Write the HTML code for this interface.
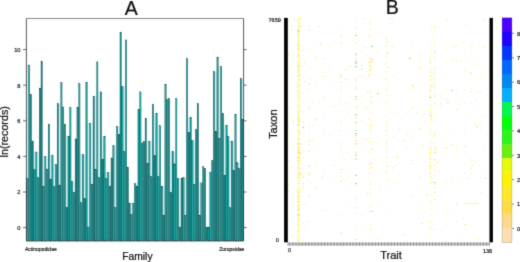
<!DOCTYPE html>
<html><head><meta charset="utf-8"><title>Figure</title>
<style>html,body{margin:0;padding:0;background:#fff}svg{display:block}text{font-family:"Liberation Sans",sans-serif;fill:#111}.b{stroke:#111;stroke-width:0.22}</style></head><body>
<svg width="520" height="262" viewBox="0 0 520 262">
<defs><filter id="soft" x="0" y="0" width="100%" height="100%" filterUnits="userSpaceOnUse" color-interpolation-filters="sRGB"><feConvolveMatrix order="3" kernelMatrix="0.0169 0.0962 0.0169 0.0962 0.5476 0.0962 0.0169 0.0962 0.0169" edgeMode="duplicate" preserveAlpha="false"/></filter></defs>
<g filter="url(#soft)">
<rect width="520" height="262" fill="#fff"/>
<g fill="#d8f6f6"><rect x="26.10" y="64.8" width="2.40" height="113.4"/><rect x="33.28" y="151.8" width="2.40" height="17.6"/><rect x="36.87" y="151.8" width="2.40" height="25.8"/><rect x="42.26" y="156.2" width="2.40" height="29.7"/><rect x="45.85" y="156.2" width="2.40" height="12.6"/><rect x="49.44" y="154.9" width="2.40" height="24.0"/><rect x="53.03" y="164.4" width="2.40" height="22.2"/><rect x="58.41" y="103.6" width="2.40" height="81.3"/><rect x="65.59" y="135.9" width="2.40" height="71.4"/><rect x="72.77" y="181.4" width="2.40" height="10.8"/><rect x="79.95" y="154.3" width="2.40" height="48.3"/><rect x="83.54" y="154.3" width="2.40" height="44.3"/><rect x="87.13" y="123.0" width="2.40" height="103.9"/><rect x="90.72" y="123.0" width="2.40" height="61.0"/><rect x="94.31" y="96.1" width="2.40" height="73.3"/><rect x="97.90" y="91.7" width="2.40" height="85.9"/><rect x="101.49" y="136.5" width="2.40" height="22.6"/><rect x="105.08" y="172.2" width="2.40" height="6.0"/><rect x="108.67" y="172.2" width="2.40" height="13.7"/><rect x="114.06" y="145.3" width="2.40" height="62.1"/><rect x="117.65" y="126.1" width="2.40" height="7.9"/><rect x="123.03" y="86.2" width="2.40" height="64.9"/><rect x="130.21" y="202.9" width="2.40" height="11.4"/><rect x="135.60" y="183.4" width="2.40" height="2.5"/><rect x="140.98" y="141.6" width="2.40" height="1.2"/><rect x="146.37" y="140.9" width="2.40" height="22.2"/><rect x="149.96" y="140.9" width="2.40" height="35.4"/><rect x="153.55" y="113.1" width="2.40" height="42.5"/><rect x="157.14" y="125.6" width="2.40" height="50.7"/><rect x="162.52" y="185.9" width="2.40" height="29.1"/><rect x="166.11" y="98.3" width="2.40" height="1.3"/><rect x="169.70" y="151.5" width="2.40" height="40.7"/><rect x="173.29" y="151.5" width="2.40" height="12.2"/><rect x="178.68" y="178.2" width="2.40" height="48.7"/><rect x="184.06" y="177.2" width="2.40" height="37.8"/><rect x="187.65" y="117.2" width="2.40" height="14.9"/><rect x="193.04" y="140.3" width="2.40" height="43.9"/><rect x="198.42" y="182.7" width="2.40" height="32.3"/><rect x="214.58" y="71.5" width="2.40" height="59.7"/><rect x="218.17" y="66.5" width="2.40" height="71.5"/><rect x="223.55" y="125.3" width="2.40" height="49.8"/><rect x="228.94" y="140.8" width="2.40" height="66.8"/><rect x="232.53" y="140.8" width="2.40" height="29.7"/><rect x="237.91" y="162.6" width="2.40" height="5.8"/><rect x="241.50" y="78.6" width="2.40" height="40.4"/></g>
<path d="M28.20 178.4V241.0M29.99 94.4V241.0M31.79 141.1V241.0M33.58 169.6V241.0M35.38 169.6V241.0M37.17 177.8V241.0M38.97 177.8V241.0M40.76 88.1V241.0M42.56 186.1V241.0M44.35 186.1V241.0M46.15 169.0V241.0M47.94 169.0V241.0M49.74 179.1V241.0M51.53 179.1V241.0M53.33 186.8V241.0M55.12 186.8V241.0M56.92 164.6V241.0M58.71 185.1V241.0M60.51 185.1V241.0M62.30 107.0V241.0M64.10 124.1V241.0M65.89 207.5V241.0M67.69 207.5V241.0M69.48 136.1V241.0M71.28 181.6V241.0M73.07 192.4V241.0M74.87 192.4V241.0M76.66 138.9V241.0M78.46 107.4V241.0M80.25 202.8V241.0M82.05 202.8V241.0M83.84 198.8V241.0M85.64 198.8V241.0M87.43 227.1V241.0M89.23 227.1V241.0M91.02 184.2V241.0M92.82 184.2V241.0M94.61 169.6V241.0M96.41 169.6V241.0M98.20 177.8V241.0M100.00 177.8V241.0M101.79 159.3V241.0M103.59 159.3V241.0M105.38 178.4V241.0M107.18 178.4V241.0M108.97 186.1V241.0M110.77 186.1V241.0M112.56 158.0V241.0M114.36 207.6V241.0M116.15 207.6V241.0M117.95 134.2V241.0M119.74 134.2V241.0M121.54 86.4V241.0M123.33 151.3V241.0M125.13 151.3V241.0M126.92 167.1V241.0M128.72 203.1V241.0M130.51 214.5V241.0M132.31 214.5V241.0M134.10 203.1V241.0M135.90 186.1V241.0M137.69 186.1V241.0M139.49 109.5V241.0M141.28 143.0V241.0M143.08 143.0V241.0M144.87 141.8V241.0M146.67 163.3V241.0M148.46 163.3V241.0M150.26 176.5V241.0M152.05 176.5V241.0M153.85 155.8V241.0M155.64 155.8V241.0M157.44 176.5V241.0M159.23 176.5V241.0M161.03 186.1V241.0M162.82 215.2V241.0M164.62 215.2V241.0M166.41 99.8V241.0M168.21 99.8V241.0M170.00 192.4V241.0M171.80 192.4V241.0M173.59 163.9V241.0M175.39 163.9V241.0M177.18 178.4V241.0M178.98 227.1V241.0M180.77 227.1V241.0M182.57 178.2V241.0M184.36 215.2V241.0M186.16 215.2V241.0M187.95 132.3V241.0M189.75 132.3V241.0M191.54 140.5V241.0M193.34 184.4V241.0M195.13 184.4V241.0M196.93 129.5V241.0M198.72 215.2V241.0M200.52 215.2V241.0M202.31 182.9V241.0M204.11 168.4V241.0M205.90 227.1V241.0M207.70 227.1V241.0M209.49 227.1V241.0M211.29 172.1V241.0M213.08 160.8V241.0M214.88 131.4V241.0M216.67 131.4V241.0M218.47 138.2V241.0M220.26 138.2V241.0M222.06 113.5V241.0M223.85 175.3V241.0M225.65 175.3V241.0M227.44 136.3V241.0M229.24 207.8V241.0M231.03 207.8V241.0M232.83 170.7V241.0M234.62 170.7V241.0M236.42 162.8V241.0M238.21 168.6V241.0M240.01 168.6V241.0M241.80 119.2V241.0" stroke="#0a5a5c" stroke-width="0.6" fill="none"/>
<g stroke="#063a3c" stroke-width="0.34"><rect x="26.64" y="178.4" width="1.315" height="62.6" fill="#21b8b2"/><rect x="28.44" y="65.0" width="1.315" height="176.0" fill="#1db2ae"/><rect x="30.23" y="94.4" width="1.315" height="146.6" fill="#0e9898"/><rect x="32.03" y="141.1" width="1.315" height="99.9" fill="#098f91"/><rect x="33.82" y="169.6" width="1.315" height="71.4" fill="#16a5a3"/><rect x="35.62" y="152.0" width="1.315" height="89.0" fill="#22b9b4"/><rect x="37.41" y="177.8" width="1.315" height="63.2" fill="#1bafab"/><rect x="39.21" y="88.1" width="1.315" height="152.9" fill="#0c9595"/><rect x="41.00" y="61.2" width="1.315" height="179.8" fill="#0a9192"/><rect x="42.80" y="186.1" width="1.315" height="54.9" fill="#18a9a6"/><rect x="44.59" y="156.4" width="1.315" height="84.6" fill="#22bab4"/><rect x="46.39" y="169.0" width="1.315" height="72.0" fill="#19aba8"/><rect x="48.18" y="124.1" width="1.315" height="116.9" fill="#0a9293"/><rect x="49.98" y="179.1" width="1.315" height="61.9" fill="#0b9394"/><rect x="51.77" y="155.1" width="1.315" height="85.9" fill="#1aada9"/><rect x="53.57" y="186.8" width="1.315" height="54.2" fill="#22bab4"/><rect x="55.36" y="164.6" width="1.315" height="76.4" fill="#17a7a5"/><rect x="57.16" y="103.8" width="1.315" height="137.2" fill="#099092"/><rect x="58.95" y="185.1" width="1.315" height="55.9" fill="#0d9696"/><rect x="60.75" y="82.6" width="1.315" height="158.4" fill="#1cb0ac"/><rect x="62.54" y="107.0" width="1.315" height="134.0" fill="#21b9b3"/><rect x="64.34" y="124.1" width="1.315" height="116.9" fill="#15a3a1"/><rect x="66.13" y="207.5" width="1.315" height="33.5" fill="#088f91"/><rect x="67.93" y="136.1" width="1.315" height="104.9" fill="#0f9999"/><rect x="69.72" y="107.4" width="1.315" height="133.6" fill="#1eb3af"/><rect x="71.52" y="181.6" width="1.315" height="59.4" fill="#20b7b2"/><rect x="73.31" y="192.4" width="1.315" height="48.6" fill="#129f9e"/><rect x="75.11" y="138.9" width="1.315" height="102.1" fill="#088e90"/><rect x="76.90" y="107.4" width="1.315" height="133.6" fill="#119d9c"/><rect x="78.70" y="83.2" width="1.315" height="157.8" fill="#20b6b1"/><rect x="80.49" y="202.8" width="1.315" height="38.2" fill="#1fb5b0"/><rect x="82.29" y="154.5" width="1.315" height="86.5" fill="#109b9b"/><rect x="84.08" y="198.8" width="1.315" height="42.2" fill="#088e90"/><rect x="85.88" y="82.6" width="1.315" height="158.4" fill="#13a19f"/><rect x="87.67" y="227.1" width="1.315" height="13.9" fill="#21b8b2"/><rect x="89.47" y="123.2" width="1.315" height="117.8" fill="#1db2ae"/><rect x="91.26" y="184.2" width="1.315" height="56.8" fill="#0e9898"/><rect x="93.06" y="96.3" width="1.315" height="144.7" fill="#098f91"/><rect x="94.85" y="169.6" width="1.315" height="71.4" fill="#15a5a3"/><rect x="96.65" y="61.9" width="1.315" height="179.1" fill="#22b9b3"/><rect x="98.44" y="177.8" width="1.315" height="63.2" fill="#1bafab"/><rect x="100.24" y="91.9" width="1.315" height="149.1" fill="#0c9595"/><rect x="102.03" y="159.3" width="1.315" height="81.7" fill="#0a9192"/><rect x="103.83" y="136.7" width="1.315" height="104.3" fill="#18a9a6"/><rect x="105.62" y="178.4" width="1.315" height="62.6" fill="#22bab4"/><rect x="107.42" y="172.4" width="1.315" height="68.6" fill="#19aba8"/><rect x="109.21" y="186.1" width="1.315" height="54.9" fill="#0a9293"/><rect x="111.01" y="158.0" width="1.315" height="83.0" fill="#0b9394"/><rect x="112.80" y="145.5" width="1.315" height="95.5" fill="#1aada9"/><rect x="114.60" y="207.6" width="1.315" height="33.4" fill="#22bab4"/><rect x="116.39" y="126.3" width="1.315" height="114.7" fill="#17a7a5"/><rect x="118.19" y="134.2" width="1.315" height="106.8" fill="#099092"/><rect x="119.98" y="32.3" width="1.315" height="208.7" fill="#0d9696"/><rect x="121.78" y="86.4" width="1.315" height="154.6" fill="#1cb0ac"/><rect x="123.57" y="151.3" width="1.315" height="89.7" fill="#21b9b3"/><rect x="125.37" y="39.9" width="1.315" height="201.1" fill="#15a3a1"/><rect x="127.16" y="167.1" width="1.315" height="73.9" fill="#088f91"/><rect x="128.96" y="203.1" width="1.315" height="37.9" fill="#0f9999"/><rect x="130.75" y="214.5" width="1.315" height="26.5" fill="#1eb3af"/><rect x="132.55" y="203.1" width="1.315" height="37.9" fill="#20b7b2"/><rect x="134.34" y="183.6" width="1.315" height="57.4" fill="#129f9e"/><rect x="136.14" y="186.1" width="1.315" height="54.9" fill="#088e90"/><rect x="137.93" y="109.5" width="1.315" height="131.5" fill="#119d9c"/><rect x="139.73" y="91.9" width="1.315" height="149.1" fill="#20b6b1"/><rect x="141.52" y="143.0" width="1.315" height="98.0" fill="#1fb5b0"/><rect x="143.32" y="141.8" width="1.315" height="99.2" fill="#109b9b"/><rect x="145.11" y="118.3" width="1.315" height="122.7" fill="#088e90"/><rect x="146.91" y="163.3" width="1.315" height="77.7" fill="#13a19f"/><rect x="148.70" y="141.1" width="1.315" height="99.9" fill="#21b8b2"/><rect x="150.50" y="176.5" width="1.315" height="64.5" fill="#1db2ae"/><rect x="152.29" y="104.5" width="1.315" height="136.5" fill="#0e9898"/><rect x="154.09" y="155.8" width="1.315" height="85.2" fill="#098f91"/><rect x="155.88" y="113.3" width="1.315" height="127.7" fill="#15a5a3"/><rect x="157.68" y="176.5" width="1.315" height="64.5" fill="#22b9b3"/><rect x="159.47" y="125.8" width="1.315" height="115.2" fill="#1cafab"/><rect x="161.27" y="186.1" width="1.315" height="54.9" fill="#0c9595"/><rect x="163.06" y="215.2" width="1.315" height="25.8" fill="#0a9192"/><rect x="164.86" y="84.2" width="1.315" height="156.8" fill="#18a9a6"/><rect x="166.65" y="99.8" width="1.315" height="141.2" fill="#22bab4"/><rect x="168.45" y="98.5" width="1.315" height="142.5" fill="#19aba8"/><rect x="170.24" y="192.4" width="1.315" height="48.6" fill="#0a9293"/><rect x="172.04" y="151.7" width="1.315" height="89.3" fill="#0b9394"/><rect x="173.83" y="163.9" width="1.315" height="77.1" fill="#1aada9"/><rect x="175.63" y="98.5" width="1.315" height="142.5" fill="#22bab4"/><rect x="177.42" y="178.4" width="1.315" height="62.6" fill="#17a7a5"/><rect x="179.22" y="227.1" width="1.315" height="13.9" fill="#099092"/><rect x="181.01" y="178.2" width="1.315" height="62.8" fill="#0d9696"/><rect x="182.81" y="177.4" width="1.315" height="63.6" fill="#1cb0ac"/><rect x="184.60" y="215.2" width="1.315" height="25.8" fill="#21b9b3"/><rect x="186.40" y="58.7" width="1.315" height="182.3" fill="#15a3a2"/><rect x="188.19" y="132.3" width="1.315" height="108.7" fill="#088f91"/><rect x="189.99" y="117.4" width="1.315" height="123.6" fill="#0e9999"/><rect x="191.78" y="140.5" width="1.315" height="100.5" fill="#1eb3ae"/><rect x="193.58" y="184.4" width="1.315" height="56.6" fill="#20b7b2"/><rect x="195.37" y="129.5" width="1.315" height="111.5" fill="#129f9e"/><rect x="197.17" y="103.8" width="1.315" height="137.2" fill="#088e90"/><rect x="198.96" y="215.2" width="1.315" height="25.8" fill="#119d9c"/><rect x="200.76" y="182.9" width="1.315" height="58.1" fill="#20b6b1"/><rect x="202.55" y="166.8" width="1.315" height="74.2" fill="#1fb5b0"/><rect x="204.35" y="168.4" width="1.315" height="72.6" fill="#109c9b"/><rect x="206.14" y="227.1" width="1.315" height="13.9" fill="#088e90"/><rect x="207.94" y="227.1" width="1.315" height="13.9" fill="#13a09f"/><rect x="209.73" y="172.1" width="1.315" height="68.9" fill="#21b8b2"/><rect x="211.53" y="160.8" width="1.315" height="80.2" fill="#1eb2ae"/><rect x="213.32" y="71.7" width="1.315" height="169.3" fill="#0e9898"/><rect x="215.12" y="131.4" width="1.315" height="109.6" fill="#098f91"/><rect x="216.91" y="57.1" width="1.315" height="183.9" fill="#15a5a2"/><rect x="218.71" y="138.2" width="1.315" height="102.8" fill="#22b9b3"/><rect x="220.50" y="66.7" width="1.315" height="174.3" fill="#1cafab"/><rect x="222.30" y="113.5" width="1.315" height="127.5" fill="#0c9596"/><rect x="224.09" y="175.3" width="1.315" height="65.7" fill="#099192"/><rect x="225.89" y="125.5" width="1.315" height="115.5" fill="#18a9a6"/><rect x="227.68" y="136.3" width="1.315" height="104.7" fill="#22bab4"/><rect x="229.48" y="207.8" width="1.315" height="33.2" fill="#19aca8"/><rect x="231.27" y="141.0" width="1.315" height="100.0" fill="#0a9293"/><rect x="233.07" y="170.7" width="1.315" height="70.3" fill="#0b9394"/><rect x="234.86" y="114.2" width="1.315" height="126.8" fill="#1aaca9"/><rect x="236.66" y="162.8" width="1.315" height="78.2" fill="#22bab4"/><rect x="238.45" y="168.6" width="1.315" height="72.4" fill="#17a8a5"/><rect x="240.25" y="78.8" width="1.315" height="162.2" fill="#099092"/><rect x="242.04" y="119.2" width="1.315" height="121.8" fill="#0c9696"/></g>
<path d="M26.4 241.0V18.5M243.6 18.5V241.0" fill="none" stroke="#2c2c2c" stroke-width="0.8"/>
<path d="M26.4 18.5H243.6M26.4 241.0H243.6" fill="none" stroke="#4a4a4a" stroke-width="0.65"/>
<path d="M23.1 227.6H26.4M243.6 227.6h3M23.1 192.0H26.4M243.6 192.0h3M23.1 156.4H26.4M243.6 156.4h3M23.1 120.8H26.4M243.6 120.8h3M23.1 85.2H26.4M243.6 85.2h3M23.1 49.6H26.4M243.6 49.6h3" stroke="#2c2c2c" stroke-width="0.7" fill="none"/>
<text x="20.4" y="229.9" font-size="5.6" stroke="#111" stroke-width="0.18" text-anchor="end">0</text>
<text x="20.4" y="194.3" font-size="5.6" stroke="#111" stroke-width="0.18" text-anchor="end">2</text>
<text x="20.4" y="158.7" font-size="5.6" stroke="#111" stroke-width="0.18" text-anchor="end">4</text>
<text x="20.4" y="123.1" font-size="5.6" stroke="#111" stroke-width="0.18" text-anchor="end">6</text>
<text x="20.4" y="87.5" font-size="5.6" stroke="#111" stroke-width="0.18" text-anchor="end">8</text>
<text x="20.4" y="51.9" font-size="5.6" stroke="#111" stroke-width="0.18" text-anchor="end">10</text>
<text x="131.2" y="14.6" font-size="19.5" text-anchor="middle" class="b">A</text>
<text x="137.4" y="259.5" font-size="10.3" text-anchor="middle" class="b">Family</text>
<text transform="translate(8.1,131.8) rotate(-90)" font-size="10.75" text-anchor="middle" class="b">ln(records)</text>
<text x="25" y="250.6" font-size="5.0" stroke="#111" stroke-width="0.16">Actinopodidae</text>
<text x="244.4" y="250.6" font-size="5.05" stroke="#111" stroke-width="0.16" text-anchor="end">Zoropsidae</text>
<rect x="297.2" y="18.4" width="2.5" height="223.4" fill="#FFF9A8" fill-opacity="0.5"/>
<path d="M297.2 18.5h2.5M297.2 25.5h2.5M297.2 32.5h2.5M297.2 37.5h2.5M297.2 69.5h2.5M297.2 80.5h2.5M297.2 90.5h2.5M297.2 93.5h2.5M297.2 106.5h2.5M297.2 113.5h2.5M297.2 139.5h2.5M297.2 154.5h2.5M297.2 167.5h2.5M297.2 194.5h2.5M297.2 220.5h2.5M297.2 226.5h2.5" stroke="#FFF58A" stroke-opacity="0.7" stroke-width="1" fill="none"/>
<path d="M297.2 20.5h2.5M297.2 22.5h2.5M297.2 27.5h2.5M297.2 54.5h2.5M297.2 62.5h2.5M297.2 86.5h2.5M297.2 96.5h2.5M297.2 99.5h2.5M297.2 112.5h2.5M297.2 132.5h2.5M297.2 145.5h2.5M297.2 166.5h2.5M297.2 178.5h2.5M297.2 189.5h2.5M297.2 198.5h2.5M297.2 222.5h2.5" stroke="#FFF58A" stroke-opacity="0.5" stroke-width="1" fill="none"/>
<path d="M297.2 30.5h2.5M297.2 152.5h2.5M297.2 201.5h2.5M297.2 214.5h2.5" stroke="#FFD27A" stroke-opacity="0.9" stroke-width="1" fill="none"/>
<path d="M297.2 31.5h2.5" stroke="#FFD27A" stroke-opacity="1.0" stroke-width="1" fill="none"/>
<path d="M297.2 33.5h2.5M297.2 163.5h2.5M297.2 196.5h2.5M297.2 210.5h2.5" stroke="#FFEA50" stroke-opacity="0.6" stroke-width="1" fill="none"/>
<path d="M297.2 35.5h2.5M297.2 42.5h2.5M297.2 55.5h2.5M297.2 61.5h2.5M297.2 104.5h2.5M297.2 107.5h2.5M297.2 111.5h2.5M297.2 118.5h2.5M297.2 125.5h2.5M297.2 144.5h2.5M297.2 161.5h2.5M297.2 175.5h2.5M297.2 207.5h2.5" stroke="#FFF58A" stroke-opacity="0.9" stroke-width="1" fill="none"/>
<path d="M297.2 38.5h2.5M297.2 43.5h2.5M297.2 47.5h2.5M297.2 50.5h2.5M297.2 58.5h2.5M297.2 71.5h2.5M297.2 87.5h2.5M297.2 92.5h2.5M297.2 153.5h2.5M297.2 168.5h2.5M297.2 172.5h2.5M297.2 208.5h2.5M297.2 212.5h2.5M297.2 216.5h2.5M297.2 218.5h2.5M297.2 237.5h2.5" stroke="#FFF58A" stroke-opacity="0.4" stroke-width="1" fill="none"/>
<path d="M297.2 40.5h2.5M297.2 56.5h2.5M297.2 72.5h2.5M297.2 151.5h2.5M297.2 158.5h2.5M297.2 183.5h2.5M297.2 231.5h2.5" stroke="#FFEA50" stroke-opacity="0.5" stroke-width="1" fill="none"/>
<path d="M297.2 44.5h2.5M297.2 53.5h2.5M297.2 63.5h2.5M297.2 66.5h2.5M297.2 84.5h2.5M297.2 97.5h2.5M297.2 123.5h2.5M297.2 169.5h2.5M297.2 199.5h2.5M297.2 206.5h2.5M297.2 219.5h2.5M297.2 224.5h2.5M297.2 225.5h2.5M297.2 238.5h2.5" stroke="#FFF58A" stroke-opacity="0.6" stroke-width="1" fill="none"/>
<path d="M297.2 45.5h2.5M297.2 65.5h2.5M297.2 143.5h2.5M297.2 173.5h2.5M297.2 215.5h2.5" stroke="#FFEA50" stroke-opacity="0.9" stroke-width="1" fill="none"/>
<path d="M297.2 48.5h2.5M297.2 67.5h2.5M297.2 85.5h2.5M297.2 156.5h2.5M297.2 195.5h2.5" stroke="#FFF58A" stroke-opacity="1.0" stroke-width="1" fill="none"/>
<path d="M297.2 49.5h2.5M297.2 177.5h2.5M297.2 209.5h2.5" stroke="#FFEA50" stroke-opacity="0.8" stroke-width="1" fill="none"/>
<path d="M297.2 70.5h2.5M297.2 79.5h2.5M297.2 91.5h2.5M297.2 95.5h2.5M297.2 114.5h2.5M297.2 116.5h2.5M297.2 117.5h2.5M297.2 130.5h2.5M297.2 131.5h2.5M297.2 149.5h2.5M297.2 180.5h2.5M297.2 190.5h2.5M297.2 191.5h2.5M297.2 197.5h2.5M297.2 230.5h2.5" stroke="#FFF58A" stroke-opacity="0.8" stroke-width="1" fill="none"/>
<path d="M297.2 75.5h2.5" stroke="#FFD27A" stroke-opacity="0.8" stroke-width="1" fill="none"/>
<path d="M297.2 119.5h2.5M297.2 138.5h2.5M297.2 147.5h2.5M297.2 150.5h2.5M297.2 205.5h2.5M297.2 240.5h2.5" stroke="#FFEA50" stroke-opacity="0.7" stroke-width="1" fill="none"/>
<path d="M297.2 121.5h2.5M297.2 160.5h2.5" stroke="#FFD27A" stroke-opacity="0.6" stroke-width="1" fill="none"/>
<path d="M297.2 124.5h2.5" stroke="#FFD27A" stroke-opacity="0.4" stroke-width="1" fill="none"/>
<path d="M297.2 157.5h2.5" stroke="#FFD27A" stroke-opacity="0.5" stroke-width="1" fill="none"/>
<path d="M297.2 192.5h2.5" stroke="#FFD27A" stroke-opacity="0.7" stroke-width="1" fill="none"/>
<path d="M288.0 20.5h1.46M299.7 47.5h1.46M299.7 110.5h1.46M299.7 160.5h1.46M299.7 204.5h1.46M302.6 55.5h1.46M302.6 58.5h1.46M302.6 122.5h1.46M302.6 125.5h1.46M302.6 153.5h1.46M308.4 49.5h1.46M308.4 96.5h1.46M308.4 108.5h1.46M308.4 144.5h1.46M311.4 68.5h1.46M311.4 90.5h1.46M311.4 101.5h1.46M311.4 141.5h1.46M312.8 140.5h1.46M315.7 133.5h1.46M315.7 165.5h1.46M323.0 76.5h1.46M323.0 115.5h1.46M323.0 119.5h1.46M327.4 229.5h1.46M340.5 44.5h1.46M340.5 47.5h1.46M340.5 176.5h1.46M342.0 179.5h1.46M344.9 174.5h1.46M347.8 112.5h1.46M350.8 84.5h1.46M352.2 136.5h1.46M355.1 67.5h1.46M355.1 107.5h1.46M355.1 125.5h1.46M355.1 185.5h1.46M355.1 225.5h1.46M355.1 230.5h1.46M358.1 40.5h1.46M361.0 228.5h1.46M365.3 55.5h1.46M368.3 70.5h1.46M368.3 109.5h1.46M368.3 152.5h1.46M368.3 168.5h1.46M368.3 179.5h1.46M369.7 59.5h1.46M369.7 126.5h1.46M369.7 142.5h1.46M369.7 166.5h1.46M371.2 60.5h1.46M371.2 74.5h1.46M371.2 79.5h1.46M374.1 158.5h1.46M377.0 102.5h1.46M377.0 143.5h1.46M377.0 173.5h1.46M385.8 115.5h1.46M385.8 125.5h1.46M385.8 126.5h1.46M385.8 140.5h1.46M385.8 145.5h1.46M385.8 153.5h1.46M385.8 157.5h1.46M385.8 224.5h1.46M387.2 169.5h1.46M387.2 185.5h1.46M390.2 240.5h1.46M391.6 182.5h1.46M394.5 182.5h1.46M397.5 156.5h1.46M398.9 163.5h1.46M412.1 32.5h1.46M419.3 205.5h1.46M419.3 210.5h1.46M423.7 110.5h1.46M425.2 92.5h1.46M426.6 161.5h1.46M439.8 27.5h1.46M439.8 95.5h1.46M439.8 188.5h1.46M441.2 183.5h1.46M445.6 88.5h1.46M445.6 204.5h1.46M445.6 239.5h1.46M451.5 180.5h1.46M455.8 128.5h1.46M455.8 162.5h1.46M457.3 177.5h1.46M458.8 105.5h1.46M460.2 97.5h1.46M461.7 42.5h1.46M461.7 76.5h1.46M464.6 68.5h1.46M464.6 90.5h1.46M470.4 88.5h1.46M470.4 113.5h1.46M474.8 62.5h1.46M479.2 66.5h1.46M479.2 128.5h1.46M482.1 47.5h1.46" stroke="#FFF6A0" stroke-opacity="0.8" stroke-width="1" fill="none"/>
<path d="M288.0 26.5h1.46M288.0 118.5h1.46M288.0 134.5h1.46M299.7 57.5h1.46M299.7 159.5h1.46M299.7 218.5h1.46M302.6 46.5h1.46M302.6 66.5h1.46M302.6 158.5h1.46M308.4 166.5h1.46M315.7 156.5h1.46M317.2 100.5h1.46M318.6 110.5h1.46M336.2 182.5h1.46M340.5 52.5h1.46M340.5 88.5h1.46M340.5 96.5h1.46M350.8 121.5h1.46M355.1 123.5h1.46M356.6 239.5h1.46M362.4 47.5h1.46M369.7 76.5h1.46M369.7 104.5h1.46M369.7 121.5h1.46M369.7 138.5h1.46M369.7 207.5h1.46M377.0 47.5h1.46M385.8 94.5h1.46M385.8 196.5h1.46M391.6 110.5h1.46M412.1 64.5h1.46M413.5 60.5h1.46M423.7 81.5h1.46M426.6 166.5h1.46M438.3 100.5h1.46M442.7 78.5h1.46M455.8 95.5h1.46M464.6 50.5h1.46M470.4 139.5h1.46M473.3 44.5h1.46M473.3 160.5h1.46M474.8 50.5h1.46M479.2 117.5h1.46M480.6 171.5h1.46M483.6 57.5h1.46M483.6 104.5h1.46M487.9 70.5h1.46" stroke="#FFF6A0" stroke-opacity="0.5" stroke-width="1" fill="none"/>
<path d="M288.0 37.5h1.46M288.0 147.5h1.46M288.0 185.5h1.46M290.9 64.5h1.46M299.7 63.5h1.46M299.7 157.5h1.46M299.7 177.5h1.46M302.6 93.5h1.46M311.4 147.5h1.46M315.7 58.5h1.46M315.7 150.5h1.46M323.0 132.5h1.46M328.9 82.5h1.46M340.5 78.5h1.46M340.5 120.5h1.46M340.5 156.5h1.46M344.9 191.5h1.46M349.3 70.5h1.46M349.3 206.5h1.46M350.8 118.5h1.46M355.1 127.5h1.46M355.1 190.5h1.46M361.0 50.5h1.46M361.0 144.5h1.46M368.3 101.5h1.46M368.3 118.5h1.46M368.3 125.5h1.46M368.3 138.5h1.46M369.7 24.5h1.46M369.7 62.5h1.46M369.7 65.5h1.46M371.2 101.5h1.46M371.2 141.5h1.46M371.2 168.5h1.46M371.2 202.5h1.46M378.5 206.5h1.46M387.2 173.5h1.46M388.7 23.5h1.46M412.1 84.5h1.46M419.3 60.5h1.46M423.7 99.5h1.46M445.6 209.5h1.46M445.6 212.5h1.46M455.8 59.5h1.46M455.8 234.5h1.46M470.4 44.5h1.46M470.4 52.5h1.46M474.8 110.5h1.46M479.2 96.5h1.46M479.2 126.5h1.46M479.2 165.5h1.46M479.2 173.5h1.46M480.6 75.5h1.46M483.6 149.5h1.46" stroke="#FFF6A0" stroke-opacity="0.9" stroke-width="1" fill="none"/>
<path d="M288.0 54.5h1.46M292.4 121.5h1.46M299.7 26.5h1.46M299.7 152.5h1.46M308.4 89.5h1.46M308.4 174.5h1.46M344.9 79.5h1.46M355.1 27.5h1.46M355.1 89.5h1.46M355.1 159.5h1.46M361.0 69.5h1.46M366.8 91.5h1.46M371.2 124.5h1.46M385.8 171.5h1.46M387.2 41.5h1.46M387.2 166.5h1.46M396.0 157.5h1.46M412.1 107.5h1.46M420.8 223.5h1.46M429.6 70.5h1.46M429.6 150.5h1.46M433.9 192.5h1.46M436.9 162.5h1.46M445.6 148.5h1.46M451.5 144.5h1.46M464.6 146.5h1.46M470.4 91.5h1.46" stroke="#FFE050" stroke-opacity="0.8" stroke-width="1" fill="none"/>
<path d="M288.0 69.5h1.46M288.0 175.5h1.46M288.0 179.5h1.46M290.9 113.5h1.46M290.9 170.5h1.46M292.4 25.5h1.46M295.3 29.5h1.46M299.7 23.5h1.46M299.7 84.5h1.46M299.7 97.5h1.46M299.7 98.5h1.46M299.7 162.5h1.46M299.7 175.5h1.46M299.7 188.5h1.46M299.7 202.5h1.46M299.7 228.5h1.46M302.6 76.5h1.46M302.6 172.5h1.46M308.4 69.5h1.46M308.4 127.5h1.46M314.3 120.5h1.46M315.7 117.5h1.46M315.7 164.5h1.46M321.6 20.5h1.46M321.6 72.5h1.46M321.6 76.5h1.46M328.9 74.5h1.46M328.9 126.5h1.46M331.8 95.5h1.46M340.5 104.5h1.46M340.5 165.5h1.46M344.9 152.5h1.46M344.9 180.5h1.46M347.8 176.5h1.46M349.3 110.5h1.46M350.8 157.5h1.46M353.7 185.5h1.46M355.1 59.5h1.46M355.1 70.5h1.46M355.1 141.5h1.46M355.1 234.5h1.46M356.6 62.5h1.46M361.0 84.5h1.46M361.0 103.5h1.46M363.9 100.5h1.46M365.3 59.5h1.46M365.3 71.5h1.46M368.3 34.5h1.46M368.3 111.5h1.46M368.3 129.5h1.46M369.7 68.5h1.46M369.7 125.5h1.46M369.7 128.5h1.46M369.7 150.5h1.46M369.7 224.5h1.46M371.2 73.5h1.46M371.2 102.5h1.46M371.2 119.5h1.46M371.2 135.5h1.46M377.0 166.5h1.46M377.0 211.5h1.46M384.3 64.5h1.46M385.8 79.5h1.46M385.8 152.5h1.46M387.2 99.5h1.46M391.6 19.5h1.46M391.6 95.5h1.46M406.2 141.5h1.46M412.1 76.5h1.46M412.1 113.5h1.46M412.1 134.5h1.46M413.5 52.5h1.46M419.3 47.5h1.46M420.8 81.5h1.46M420.8 117.5h1.46M423.7 130.5h1.46M442.7 115.5h1.46M444.2 90.5h1.46M444.2 147.5h1.46M445.6 46.5h1.46M445.6 48.5h1.46M445.6 133.5h1.46M450.0 133.5h1.46M451.5 45.5h1.46M451.5 182.5h1.46M455.8 152.5h1.46M455.8 216.5h1.46M464.6 129.5h1.46M470.4 163.5h1.46M470.4 173.5h1.46M470.4 240.5h1.46M471.9 160.5h1.46M473.3 122.5h1.46M474.8 90.5h1.46M476.3 238.5h1.46M479.2 214.5h1.46" stroke="#FFF6A0" stroke-opacity="0.7" stroke-width="1" fill="none"/>
<path d="M288.0 107.5h1.46M288.0 220.5h1.46M290.9 29.5h1.46M299.7 51.5h1.46M299.7 79.5h1.46M299.7 172.5h1.46M302.6 50.5h1.46M302.6 187.5h1.46M304.1 203.5h1.46M304.1 226.5h1.46M308.4 131.5h1.46M308.4 141.5h1.46M308.4 151.5h1.46M311.4 138.5h1.46M318.6 103.5h1.46M323.0 58.5h1.46M323.0 129.5h1.46M323.0 171.5h1.46M328.9 66.5h1.46M328.9 135.5h1.46M334.7 41.5h1.46M340.5 29.5h1.46M340.5 100.5h1.46M340.5 149.5h1.46M355.1 55.5h1.46M355.1 78.5h1.46M355.1 118.5h1.46M355.1 154.5h1.46M361.0 214.5h1.46M365.3 139.5h1.46M368.3 173.5h1.46M368.3 211.5h1.46M369.7 103.5h1.46M369.7 164.5h1.46M369.7 188.5h1.46M369.7 193.5h1.46M369.7 228.5h1.46M369.7 235.5h1.46M371.2 68.5h1.46M371.2 96.5h1.46M371.2 126.5h1.46M371.2 148.5h1.46M377.0 238.5h1.46M385.8 43.5h1.46M385.8 71.5h1.46M385.8 90.5h1.46M385.8 134.5h1.46M385.8 143.5h1.46M385.8 165.5h1.46M385.8 213.5h1.46M387.2 158.5h1.46M391.6 167.5h1.46M393.1 136.5h1.46M404.8 235.5h1.46M406.2 148.5h1.46M406.2 240.5h1.46M412.1 137.5h1.46M419.3 55.5h1.46M419.3 128.5h1.46M419.3 176.5h1.46M423.7 66.5h1.46M425.2 85.5h1.46M429.6 63.5h1.46M429.6 79.5h1.46M429.6 85.5h1.46M429.6 164.5h1.46M429.6 202.5h1.46M429.6 221.5h1.46M431.0 75.5h1.46M431.0 114.5h1.46M432.5 38.5h1.46M433.9 51.5h1.46M433.9 79.5h1.46M433.9 117.5h1.46M433.9 133.5h1.46M433.9 170.5h1.46M445.6 241.5h1.46M447.1 103.5h1.46M451.5 60.5h1.46M455.8 109.5h1.46M464.6 24.5h1.46M470.4 73.5h1.46M474.8 161.5h1.46M476.3 126.5h1.46M479.2 177.5h1.46M479.2 193.5h1.46M479.2 238.5h1.46M486.5 133.5h1.46M487.9 108.5h1.46" stroke="#FFE2B0" stroke-opacity="0.7" stroke-width="1" fill="none"/>
<path d="M288.0 127.5h1.46M288.0 205.5h1.46M290.9 107.5h1.46M299.7 46.5h1.46M299.7 66.5h1.46M299.7 93.5h1.46M299.7 120.5h1.46M302.6 123.5h1.46M302.6 169.5h1.46M302.6 191.5h1.46M304.1 60.5h1.46M304.1 133.5h1.46M304.1 150.5h1.46M305.5 88.5h1.46M308.4 25.5h1.46M308.4 48.5h1.46M308.4 56.5h1.46M308.4 67.5h1.46M308.4 78.5h1.46M308.4 145.5h1.46M308.4 173.5h1.46M308.4 180.5h1.46M315.7 44.5h1.46M315.7 55.5h1.46M323.0 47.5h1.46M323.0 72.5h1.46M323.0 107.5h1.46M330.3 44.5h1.46M340.5 42.5h1.46M340.5 227.5h1.46M350.8 96.5h1.46M355.1 45.5h1.46M355.1 184.5h1.46M355.1 222.5h1.46M356.6 142.5h1.46M356.6 230.5h1.46M361.0 138.5h1.46M368.3 114.5h1.46M368.3 142.5h1.46M368.3 178.5h1.46M369.7 89.5h1.46M369.7 127.5h1.46M369.7 171.5h1.46M369.7 225.5h1.46M371.2 48.5h1.46M371.2 229.5h1.46M377.0 157.5h1.46M379.9 92.5h1.46M381.4 85.5h1.46M382.9 222.5h1.46M385.8 55.5h1.46M385.8 116.5h1.46M385.8 135.5h1.46M385.8 162.5h1.46M385.8 176.5h1.46M387.2 81.5h1.46M387.2 101.5h1.46M393.1 169.5h1.46M398.9 140.5h1.46M400.4 211.5h1.46M406.2 55.5h1.46M412.1 63.5h1.46M412.1 98.5h1.46M419.3 73.5h1.46M439.8 79.5h1.46M439.8 161.5h1.46M454.4 83.5h1.46M455.8 202.5h1.46M470.4 79.5h1.46M470.4 166.5h1.46M474.8 149.5h1.46M479.2 47.5h1.46M479.2 78.5h1.46M483.6 43.5h1.46" stroke="#FFF6A0" stroke-opacity="0.6" stroke-width="1" fill="none"/>
<path d="M288.0 160.5h1.46M290.9 166.5h1.46M290.9 236.5h1.46M299.7 74.5h1.46M304.1 63.5h1.46M304.1 81.5h1.46M308.4 84.5h1.46M308.4 109.5h1.46M308.4 150.5h1.46M308.4 172.5h1.46M308.4 221.5h1.46M311.4 125.5h1.46M315.7 188.5h1.46M333.2 165.5h1.46M340.5 130.5h1.46M344.9 103.5h1.46M355.1 32.5h1.46M355.1 79.5h1.46M355.1 239.5h1.46M361.0 96.5h1.46M365.3 47.5h1.46M369.7 131.5h1.46M369.7 182.5h1.46M371.2 45.5h1.46M371.2 167.5h1.46M385.8 46.5h1.46M385.8 56.5h1.46M387.2 179.5h1.46M391.6 46.5h1.46M394.5 165.5h1.46M403.3 140.5h1.46M403.3 234.5h1.46M419.3 129.5h1.46M423.7 121.5h1.46M429.6 91.5h1.46M431.0 143.5h1.46M433.9 52.5h1.46M433.9 57.5h1.46M433.9 73.5h1.46M433.9 199.5h1.46M435.4 152.5h1.46M452.9 58.5h1.46M466.0 178.5h1.46M474.8 99.5h1.46" stroke="#FFE2B0" stroke-opacity="0.9" stroke-width="1" fill="none"/>
<path d="M288.0 191.5h1.46M302.6 176.5h1.46M318.6 26.5h1.46M333.2 106.5h1.46M340.5 82.5h1.46M343.5 159.5h1.46M355.1 53.5h1.46M355.1 98.5h1.46M355.1 115.5h1.46M355.1 152.5h1.46M365.3 108.5h1.46M369.7 92.5h1.46M369.7 163.5h1.46M412.1 85.5h1.46M412.1 86.5h1.46M429.6 115.5h1.46M429.6 209.5h1.46M435.4 148.5h1.46M464.6 70.5h1.46" stroke="#FFE050" stroke-opacity="0.7" stroke-width="1" fill="none"/>
<path d="M290.9 76.5h1.46M299.7 59.5h1.46M299.7 94.5h1.46M299.7 109.5h1.46M299.7 117.5h1.46M299.7 143.5h1.46M299.7 144.5h1.46M299.7 154.5h1.46M302.6 121.5h1.46M302.6 150.5h1.46M302.6 178.5h1.46M308.4 83.5h1.46M308.4 106.5h1.46M308.4 124.5h1.46M315.7 56.5h1.46M315.7 83.5h1.46M321.6 210.5h1.46M323.0 135.5h1.46M325.9 210.5h1.46M340.5 74.5h1.46M340.5 123.5h1.46M344.9 69.5h1.46M347.8 66.5h1.46M350.8 131.5h1.46M350.8 182.5h1.46M355.1 18.5h1.46M355.1 62.5h1.46M355.1 85.5h1.46M355.1 108.5h1.46M355.1 121.5h1.46M355.1 197.5h1.46M355.1 202.5h1.46M356.6 151.5h1.46M356.6 206.5h1.46M358.1 76.5h1.46M362.4 45.5h1.46M369.7 23.5h1.46M369.7 106.5h1.46M371.2 121.5h1.46M371.2 149.5h1.46M379.9 189.5h1.46M384.3 180.5h1.46M385.8 53.5h1.46M385.8 105.5h1.46M387.2 139.5h1.46M390.2 18.5h1.46M391.6 22.5h1.46M398.9 174.5h1.46M406.2 112.5h1.46M406.2 133.5h1.46M409.1 110.5h1.46M419.3 152.5h1.46M429.6 86.5h1.46M429.6 90.5h1.46M429.6 95.5h1.46M429.6 128.5h1.46M429.6 131.5h1.46M429.6 134.5h1.46M429.6 141.5h1.46M429.6 194.5h1.46M431.0 119.5h1.46M431.0 215.5h1.46M433.9 166.5h1.46M439.8 103.5h1.46M439.8 140.5h1.46M441.2 105.5h1.46M445.6 183.5h1.46M445.6 225.5h1.46M452.9 212.5h1.46M455.8 61.5h1.46M455.8 221.5h1.46M457.3 109.5h1.46M461.7 217.5h1.46M464.6 61.5h1.46M464.6 173.5h1.46M470.4 102.5h1.46M470.4 158.5h1.46M471.9 64.5h1.46M474.8 201.5h1.46M480.6 192.5h1.46" stroke="#FFE2B0" stroke-opacity="0.6" stroke-width="1" fill="none"/>
<path d="M295.3 87.5h1.46M299.7 76.5h1.46M299.7 133.5h1.46M299.7 148.5h1.46M299.7 168.5h1.46M299.7 180.5h1.46M301.1 143.5h1.46M302.6 111.5h1.46M302.6 185.5h1.46M302.6 223.5h1.46M309.9 183.5h1.46M311.4 79.5h1.46M315.7 60.5h1.46M321.6 63.5h1.46M323.0 96.5h1.46M340.5 43.5h1.46M340.5 77.5h1.46M340.5 90.5h1.46M340.5 143.5h1.46M340.5 172.5h1.46M346.4 69.5h1.46M350.8 66.5h1.46M355.1 80.5h1.46M355.1 87.5h1.46M355.1 137.5h1.46M355.1 199.5h1.46M355.1 207.5h1.46M355.1 213.5h1.46M356.6 159.5h1.46M361.0 75.5h1.46M361.0 120.5h1.46M362.4 18.5h1.46M368.3 36.5h1.46M369.7 28.5h1.46M369.7 58.5h1.46M369.7 64.5h1.46M369.7 97.5h1.46M369.7 161.5h1.46M369.7 173.5h1.46M369.7 184.5h1.46M369.7 196.5h1.46M369.7 206.5h1.46M371.2 61.5h1.46M371.2 62.5h1.46M371.2 112.5h1.46M371.2 129.5h1.46M371.2 163.5h1.46M377.0 52.5h1.46M377.0 137.5h1.46M385.8 78.5h1.46M385.8 121.5h1.46M385.8 123.5h1.46M385.8 131.5h1.46M385.8 142.5h1.46M385.8 148.5h1.46M387.2 95.5h1.46M391.6 75.5h1.46M410.6 45.5h1.46M412.1 163.5h1.46M416.4 112.5h1.46M419.3 68.5h1.46M423.7 114.5h1.46M429.6 26.5h1.46M429.6 89.5h1.46M429.6 112.5h1.46M429.6 113.5h1.46M429.6 116.5h1.46M429.6 147.5h1.46M429.6 158.5h1.46M431.0 76.5h1.46M431.0 116.5h1.46M433.9 34.5h1.46M433.9 67.5h1.46M433.9 69.5h1.46M433.9 96.5h1.46M433.9 187.5h1.46M433.9 229.5h1.46M438.3 171.5h1.46M439.8 107.5h1.46M454.4 46.5h1.46M455.8 89.5h1.46M455.8 146.5h1.46M455.8 150.5h1.46M460.2 61.5h1.46M464.6 103.5h1.46M464.6 134.5h1.46M470.4 72.5h1.46M471.9 165.5h1.46M474.8 66.5h1.46M474.8 124.5h1.46M476.3 127.5h1.46M479.2 41.5h1.46M479.2 124.5h1.46M485.0 115.5h1.46" stroke="#FFE2B0" stroke-opacity="0.8" stroke-width="1" fill="none"/>
<path d="M299.7 18.5h1.46M308.4 195.5h1.46M321.6 177.5h1.46M340.5 169.5h1.46M340.5 181.5h1.46M355.1 42.5h1.46M355.1 140.5h1.46M355.1 143.5h1.46M366.8 193.5h1.46M368.3 62.5h1.46M369.7 66.5h1.46M369.7 70.5h1.46M426.6 194.5h1.46M429.6 61.5h1.46M429.6 166.5h1.46M464.6 224.5h1.46M485.0 178.5h1.46" stroke="#FFE050" stroke-opacity="0.9" stroke-width="1" fill="none"/>
<path d="M299.7 132.5h1.46M299.7 198.5h1.46M302.6 174.5h1.46M311.4 236.5h1.46M331.8 183.5h1.46M340.5 111.5h1.46M340.5 146.5h1.46M340.5 233.5h1.46M347.8 153.5h1.46M355.1 34.5h1.46M355.1 48.5h1.46M355.1 153.5h1.46M361.0 68.5h1.46M368.3 76.5h1.46M368.3 119.5h1.46M369.7 21.5h1.46M369.7 53.5h1.46M369.7 61.5h1.46M369.7 90.5h1.46M369.7 209.5h1.46M371.2 158.5h1.46M384.3 79.5h1.46M385.8 62.5h1.46M385.8 89.5h1.46M385.8 182.5h1.46M387.2 53.5h1.46M387.2 86.5h1.46M391.6 112.5h1.46M397.5 112.5h1.46M406.2 134.5h1.46M423.7 169.5h1.46M429.6 67.5h1.46M429.6 189.5h1.46M431.0 105.5h1.46M433.9 41.5h1.46M433.9 103.5h1.46M433.9 130.5h1.46M445.6 180.5h1.46M455.8 45.5h1.46M470.4 47.5h1.46M470.4 161.5h1.46M487.9 69.5h1.46M487.9 95.5h1.46" stroke="#FFE2B0" stroke-opacity="0.5" stroke-width="1" fill="none"/>
<path d="M299.7 153.5h1.46M299.7 174.5h1.46M302.6 183.5h1.46M308.4 30.5h1.46M308.4 140.5h1.46M308.4 165.5h1.46M315.7 119.5h1.46M320.1 44.5h1.46M340.5 36.5h1.46M340.5 75.5h1.46M355.1 58.5h1.46M355.1 99.5h1.46M355.1 117.5h1.46M355.1 144.5h1.46M356.6 66.5h1.46M356.6 106.5h1.46M361.0 65.5h1.46M368.3 74.5h1.46M371.2 59.5h1.46M385.8 38.5h1.46M387.2 67.5h1.46M398.9 129.5h1.46M429.6 173.5h1.46M429.6 182.5h1.46M431.0 72.5h1.46M433.9 26.5h1.46M433.9 94.5h1.46M433.9 159.5h1.46M445.6 20.5h1.46M445.6 99.5h1.46M447.1 102.5h1.46M470.4 168.5h1.46M479.2 92.5h1.46M483.6 19.5h1.46M483.6 46.5h1.46" stroke="#C8F080" stroke-opacity="0.8" stroke-width="1" fill="none"/>
<path d="M302.6 127.5h1.46M355.1 96.5h1.46M371.2 46.5h1.46M371.2 211.5h1.46M377.0 93.5h1.46M409.1 58.5h1.46M429.6 97.5h1.46M433.9 182.5h1.46M451.5 90.5h1.46" stroke="#50D890" stroke-opacity="0.8" stroke-width="1" fill="none"/>
<path d="M340.5 86.5h1.46M340.5 214.5h1.46M340.5 232.5h1.46M385.8 102.5h1.46M385.8 130.5h1.46M387.2 52.5h1.46M410.6 160.5h1.46M412.1 195.5h1.46M422.3 145.5h1.46M455.8 203.5h1.46M464.6 164.5h1.46M470.4 74.5h1.46" stroke="#FFE050" stroke-opacity="0.6" stroke-width="1" fill="none"/>
<path d="M355.1 35.5h1.46M355.1 61.5h1.46M355.1 63.5h1.46M355.1 66.5h1.46M355.1 114.5h1.46" stroke="#4CD090" stroke-opacity="0.8" stroke-width="1" fill="none"/>
<path d="M355.1 54.5h1.46M355.1 158.5h1.46" stroke="#A8EE60" stroke-opacity="0.8" stroke-width="1" fill="none"/>
<path d="M355.1 122.5h1.46M355.1 130.5h1.46M355.1 135.5h1.46M355.1 155.5h1.46" stroke="#7AE070" stroke-opacity="0.8" stroke-width="1" fill="none"/>
<path d="M355.1 133.5h1.46M355.1 175.5h1.46M355.1 183.5h1.46" stroke="#40B8D0" stroke-opacity="0.8" stroke-width="1" fill="none"/>
<path d="M429.6 29.5h1.46M429.6 35.5h1.46M429.6 49.5h1.46M429.6 73.5h1.46M429.6 76.5h1.46M429.6 99.5h1.46M429.6 118.5h1.46M429.6 135.5h1.46M429.6 155.5h1.46M429.6 165.5h1.46M429.6 240.5h1.46M431.0 84.5h1.46M431.0 147.5h1.46M433.9 43.5h1.46M433.9 46.5h1.46M433.9 59.5h1.46M433.9 136.5h1.46M433.9 149.5h1.46" stroke="#FFFA80" stroke-opacity="0.6" stroke-width="1" fill="none"/>
<path d="M429.6 41.5h1.46M429.6 58.5h1.46M429.6 87.5h1.46M429.6 96.5h1.46M429.6 108.5h1.46M429.6 110.5h1.46M429.6 124.5h1.46M429.6 129.5h1.46M429.6 148.5h1.46M429.6 154.5h1.46M429.6 167.5h1.46M429.6 168.5h1.46M429.6 228.5h1.46M431.0 43.5h1.46M431.0 78.5h1.46M431.0 118.5h1.46M431.0 121.5h1.46M431.0 228.5h1.46M433.9 28.5h1.46M433.9 70.5h1.46M433.9 80.5h1.46M433.9 89.5h1.46M433.9 121.5h1.46M433.9 143.5h1.46M435.4 153.5h1.46" stroke="#FFFA80" stroke-opacity="0.8" stroke-width="1" fill="none"/>
<path d="M429.6 56.5h1.46M429.6 88.5h1.46M429.6 119.5h1.46M429.6 122.5h1.46M429.6 178.5h1.46M429.6 222.5h1.46M431.0 30.5h1.46M431.0 55.5h1.46M431.0 110.5h1.46M431.0 132.5h1.46M431.0 133.5h1.46M431.0 168.5h1.46M433.9 83.5h1.46M433.9 102.5h1.46M433.9 146.5h1.46M433.9 151.5h1.46M433.9 160.5h1.46M433.9 174.5h1.46M433.9 175.5h1.46M433.9 208.5h1.46" stroke="#FFFA80" stroke-opacity="0.7" stroke-width="1" fill="none"/>
<path d="M429.6 75.5h1.46M429.6 104.5h1.46M429.6 153.5h1.46M429.6 157.5h1.46M429.6 159.5h1.46M429.6 162.5h1.46M429.6 234.5h1.46M431.0 85.5h1.46M431.0 86.5h1.46M431.0 181.5h1.46M431.0 201.5h1.46M433.9 53.5h1.46M433.9 77.5h1.46M433.9 85.5h1.46M433.9 87.5h1.46M433.9 114.5h1.46M433.9 134.5h1.46M433.9 152.5h1.46M433.9 164.5h1.46M433.9 184.5h1.46" stroke="#FFFA80" stroke-opacity="0.9" stroke-width="1" fill="none"/>
<path d="M429.6 80.5h1.46M429.6 152.5h1.46M429.6 171.5h1.46M429.6 175.5h1.46M429.6 176.5h1.46M431.0 195.5h1.46M433.9 105.5h1.46M433.9 135.5h1.46" stroke="#FFFA80" stroke-opacity="1.0" stroke-width="1" fill="none"/>
<path d="M464.4 203.5H479" stroke="#ECF08A" stroke-width="0.7" fill="none"/>
<rect x="284.1" y="17.9" width="3.7" height="224.4" fill="#000"/>
<rect x="489.5" y="17.9" width="3.4" height="224.4" fill="#000"/>
<path d="M288.00 242.5v3.1M289.46 242.5v3.1M290.92 242.5v3.1M292.38 242.5v3.1M293.84 242.5v3.1M295.30 242.5v3.1M296.76 242.5v3.1M298.22 242.5v3.1M299.68 242.5v3.1M301.13 242.5v3.1M302.59 242.5v3.1M304.05 242.5v3.1M305.51 242.5v3.1M306.97 242.5v3.1M308.43 242.5v3.1M309.89 242.5v3.1M311.35 242.5v3.1M312.81 242.5v3.1M314.27 242.5v3.1M315.73 242.5v3.1M317.19 242.5v3.1M318.65 242.5v3.1M320.11 242.5v3.1M321.57 242.5v3.1M323.03 242.5v3.1M324.49 242.5v3.1M325.94 242.5v3.1M327.40 242.5v3.1M328.86 242.5v3.1M330.32 242.5v3.1M331.78 242.5v3.1M333.24 242.5v3.1M334.70 242.5v3.1M336.16 242.5v3.1M337.62 242.5v3.1M339.08 242.5v3.1M340.54 242.5v3.1M342.00 242.5v3.1M343.46 242.5v3.1M344.92 242.5v3.1M346.38 242.5v3.1M347.84 242.5v3.1M349.30 242.5v3.1M350.76 242.5v3.1M352.21 242.5v3.1M353.67 242.5v3.1M355.13 242.5v3.1M356.59 242.5v3.1M358.05 242.5v3.1M359.51 242.5v3.1M360.97 242.5v3.1M362.43 242.5v3.1M363.89 242.5v3.1M365.35 242.5v3.1M366.81 242.5v3.1M368.27 242.5v3.1M369.73 242.5v3.1M371.19 242.5v3.1M372.65 242.5v3.1M374.11 242.5v3.1M375.57 242.5v3.1M377.02 242.5v3.1M378.48 242.5v3.1M379.94 242.5v3.1M381.40 242.5v3.1M382.86 242.5v3.1M384.32 242.5v3.1M385.78 242.5v3.1M387.24 242.5v3.1M388.70 242.5v3.1M390.16 242.5v3.1M391.62 242.5v3.1M393.08 242.5v3.1M394.54 242.5v3.1M396.00 242.5v3.1M397.46 242.5v3.1M398.92 242.5v3.1M400.38 242.5v3.1M401.83 242.5v3.1M403.29 242.5v3.1M404.75 242.5v3.1M406.21 242.5v3.1M407.67 242.5v3.1M409.13 242.5v3.1M410.59 242.5v3.1M412.05 242.5v3.1M413.51 242.5v3.1M414.97 242.5v3.1M416.43 242.5v3.1M417.89 242.5v3.1M419.35 242.5v3.1M420.81 242.5v3.1M422.27 242.5v3.1M423.73 242.5v3.1M425.19 242.5v3.1M426.64 242.5v3.1M428.10 242.5v3.1M429.56 242.5v3.1M431.02 242.5v3.1M432.48 242.5v3.1M433.94 242.5v3.1M435.40 242.5v3.1M436.86 242.5v3.1M438.32 242.5v3.1M439.78 242.5v3.1M441.24 242.5v3.1M442.70 242.5v3.1M444.16 242.5v3.1M445.62 242.5v3.1M447.08 242.5v3.1M448.54 242.5v3.1M450.00 242.5v3.1M451.46 242.5v3.1M452.91 242.5v3.1M454.37 242.5v3.1M455.83 242.5v3.1M457.29 242.5v3.1M458.75 242.5v3.1M460.21 242.5v3.1M461.67 242.5v3.1M463.13 242.5v3.1M464.59 242.5v3.1M466.05 242.5v3.1M467.51 242.5v3.1M468.97 242.5v3.1M470.43 242.5v3.1M471.89 242.5v3.1M473.35 242.5v3.1M474.81 242.5v3.1M476.27 242.5v3.1M477.72 242.5v3.1M479.18 242.5v3.1M480.64 242.5v3.1M482.10 242.5v3.1M483.56 242.5v3.1M485.02 242.5v3.1M486.48 242.5v3.1M487.94 242.5v3.1M489.40 242.5v3.1" stroke="#333" stroke-width="0.6" fill="none"/>
<text x="392.3" y="13.7" font-size="19.5" text-anchor="middle" class="b">B</text>
<text x="391" y="259.1" font-size="11" text-anchor="middle" class="b">Trait</text>
<text transform="translate(277.4,124.2) rotate(-90)" font-size="11.2" text-anchor="middle" class="b">Taxon</text>
<text x="280.8" y="22.1" font-size="5.5" stroke="#111" stroke-width="0.17" text-anchor="end">7659</text>
<text x="278.8" y="241.8" font-size="5.5" stroke="#111" stroke-width="0.17" text-anchor="end">0</text>
<text x="289.6" y="251.8" font-size="5.5" stroke="#111" stroke-width="0.17" text-anchor="middle">0</text>
<text x="487.6" y="252.8" font-size="5.5" stroke="#111" stroke-width="0.17" text-anchor="middle">138</text>
<rect x="502.1" y="17.80" width="9.8" height="14.34" fill="#4C00FF"/>
<rect x="502.1" y="31.84" width="9.8" height="14.34" fill="#2200FF"/>
<rect x="502.1" y="45.88" width="9.8" height="14.34" fill="#0038FF"/>
<rect x="502.1" y="59.91" width="9.8" height="14.34" fill="#0068FF"/>
<rect x="502.1" y="73.95" width="9.8" height="14.34" fill="#0088F0"/>
<rect x="502.1" y="87.99" width="9.8" height="14.34" fill="#00B0FF"/>
<rect x="502.1" y="102.02" width="9.8" height="14.34" fill="#00F850"/>
<rect x="502.1" y="116.06" width="9.8" height="14.34" fill="#00FF08"/>
<rect x="502.1" y="130.10" width="9.8" height="14.34" fill="#2CF51C"/>
<rect x="502.1" y="144.14" width="9.8" height="14.34" fill="#68F010"/>
<rect x="502.1" y="158.18" width="9.8" height="14.34" fill="#E8FA08"/>
<rect x="502.1" y="172.21" width="9.8" height="14.34" fill="#FFF200"/>
<rect x="502.1" y="186.25" width="9.8" height="14.34" fill="#FFE825"/>
<rect x="502.1" y="200.29" width="9.8" height="14.34" fill="#FFDC45"/>
<rect x="502.1" y="214.33" width="9.8" height="14.34" fill="#FFD98A"/>
<rect x="502.1" y="228.36" width="9.8" height="14.34" fill="#FFDFB0"/>
<rect x="502.1" y="17.8" width="9.8" height="224.6" fill="none" stroke="#000" stroke-opacity="0.25" stroke-width="0.6"/>
<text x="516.9" y="230.8" font-size="5.7" stroke="#111" stroke-width="0.17">0</text>
<text x="516.9" y="206.4" font-size="5.7" stroke="#111" stroke-width="0.17">1</text>
<text x="516.9" y="182.0" font-size="5.7" stroke="#111" stroke-width="0.17">2</text>
<text x="516.9" y="157.6" font-size="5.7" stroke="#111" stroke-width="0.17">3</text>
<text x="516.9" y="133.2" font-size="5.7" stroke="#111" stroke-width="0.17">4</text>
<text x="516.9" y="108.8" font-size="5.7" stroke="#111" stroke-width="0.17">5</text>
<text x="516.9" y="84.4" font-size="5.7" stroke="#111" stroke-width="0.17">6</text>
<text x="516.9" y="60.0" font-size="5.7" stroke="#111" stroke-width="0.17">7</text>
<text x="516.9" y="35.6" font-size="5.7" stroke="#111" stroke-width="0.17">8</text>
<path d="M512.2 228.5h1.8M512.2 204.1h1.8M512.2 179.7h1.8M512.2 155.3h1.8M512.2 130.9h1.8M512.2 106.5h1.8M512.2 82.1h1.8M512.2 57.7h1.8M512.2 33.3h1.8" stroke="#444" stroke-width="0.7" fill="none"/>
</g></svg></body></html>
